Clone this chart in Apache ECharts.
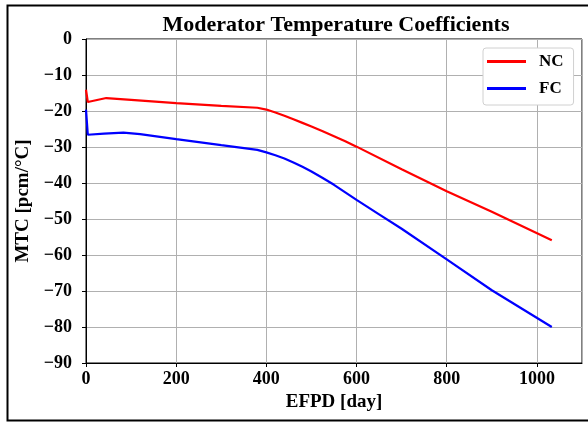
<!DOCTYPE html>
<html>
<head>
<meta charset="utf-8">
<script src="https://cdn.jsdelivr.net/npm/echarts@6/dist/echarts.min.js"></script>
<style>
  html, body { margin: 0; padding: 0; background: #fff; }
  #chart { width: 588px; height: 423px; }
</style>
</head>
<body>
<div id="chart"></div>
<script>
// Effective full power days and moderator temperature coefficients (pcm/ºC)
const ncDays = [0, 4, 45, 100, 200, 300, 380, 400, 420, 440, 460, 480, 500, 525, 550, 575, 600, 700, 800, 900, 1033];
const ncMTC  = [-14.1, -17.5, -16.4, -16.9, -17.8, -18.6, -19.1, -19.6, -20.4, -21.3, -22.3, -23.3, -24.3, -25.6, -27.0, -28.4, -29.9, -36.2, -42.3, -48.0, -55.9];

const fcDays = [0, 4, 40, 83, 120, 200, 300, 380, 400, 420, 440, 460, 480, 500, 525, 550, 575, 600, 650, 700, 800, 900, 1033];
const fcMTC  = [-19.6, -26.6, -26.3, -26.0, -26.4, -27.8, -29.5, -30.8, -31.5, -32.3, -33.2, -34.3, -35.5, -36.8, -38.6, -40.5, -42.6, -44.7, -48.7, -52.7, -61.2, -69.8, -80.0];

const seriesNames = ['NC', 'FC'];
const xTicks = { min: 0, max: 1100, step: 200 };
const yTicks = { min: -90, max: 0, step: 10 };

const FONT = "'Liberation Serif', 'Times New Roman', serif";

function pairs(xs, ys) { return xs.map((x, i) => [x, ys[i]]); }

const chart = echarts.init(document.getElementById('chart'), null, { renderer: 'canvas' });

chart.setOption({
  animation: false,
  backgroundColor: '#fff',
  title: {
    text: 'Moderator Temperature Coefficients',
    left: 331, top: 9, textAlign: 'center',
    textStyle: { fontFamily: FONT, fontWeight: 'bold', fontSize: 22, color: '#000' }
  },
  grid: {
    left: 86, top: 39, width: 496, height: 324,
    show: true, borderColor: '#000', borderWidth: 1, backgroundColor: 'transparent'
  },
  legend: {
    orient: 'vertical',
    left: 483, top: 48,
    padding: [5, 10, 8, 4],
    itemWidth: 39, itemHeight: 3, itemGap: 10,
    icon: 'rect',
    backgroundColor: '#fff',
    borderColor: '#d0d0d0', borderWidth: 1, borderRadius: 3,
    textStyle: { fontFamily: FONT, fontWeight: 'bold', fontSize: 17, color: '#000', padding: [0, 0, 0, 8] },
    data: seriesNames
  },
  xAxis: {
    type: 'value',
    min: xTicks.min, max: xTicks.max, interval: xTicks.step,
    name: 'EFPD [day]', nameLocation: 'middle', nameGap: 30,
    nameTextStyle: { fontFamily: FONT, fontWeight: 'bold', fontSize: 19, color: '#000' },
    axisLine: { show: true, onZero: false, lineStyle: { color: '#000', width: 1 } },
    axisTick: { show: true, length: 4, lineStyle: { color: '#000' } },
    axisLabel: {
      margin: 7, fontFamily: FONT, fontWeight: 'bold', fontSize: 18, color: '#000',
      showMaxLabel: false,
      formatter: v => String(v)
    },
    splitLine: { show: true, lineStyle: { color: '#b0b0b0', width: 1 } }
  },
  yAxis: {
    type: 'value',
    min: yTicks.min, max: yTicks.max, interval: yTicks.step,
    name: 'MTC [pcm/°C]', nameLocation: 'middle', nameGap: 51,
    nameTextStyle: { fontFamily: FONT, fontWeight: 'bold', fontSize: 19, color: '#000' },
    axisLine: { show: true, onZero: false, lineStyle: { color: '#000', width: 1 } },
    axisTick: { show: true, length: 4, lineStyle: { color: '#000' } },
    axisLabel: {
      margin: 14, fontFamily: FONT, fontWeight: 'bold', fontSize: 18, color: '#000',
      formatter: v => (v < 0 ? '\u2212' + Math.abs(v) : String(v))
    },
    splitLine: { show: true, lineStyle: { color: '#b0b0b0', width: 1 } }
  },
  series: [
    {
      name: seriesNames[0], type: 'line', data: pairs(ncDays, ncMTC),
      showSymbol: false, smooth: false, color: '#ff0000',
      lineStyle: { color: '#ff0000', width: 2.2 }
    },
    {
      name: seriesNames[1], type: 'line', data: pairs(fcDays, fcMTC),
      showSymbol: false, smooth: false, color: '#0000ff',
      lineStyle: { color: '#0000ff', width: 2.2 }
    }
  ],
  graphic: [
    {
      type: 'rect', silent: true, z: 100,
      shape: { x: 7.5, y: 5.5, width: 590, height: 415 },
      style: { fill: 'none', stroke: '#000', lineWidth: 2 }
    }
  ]
});
</script>
</body>
</html>
